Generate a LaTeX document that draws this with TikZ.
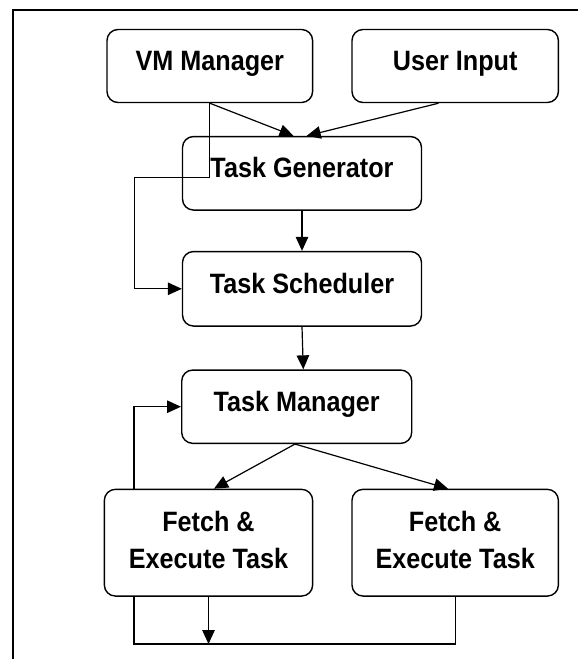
\documentclass[tikz,border=0pt]{standalone}
\usepackage{fontspec}
\setmainfont{Liberation Sans}[FakeStretch=0.9]
\usetikzlibrary{arrows.meta}
\tikzset{
  box/.style={draw=black, line width=1.4pt, rounded corners=11pt, fill=white,
    font=\bfseries\fontsize{28}{36.6}\selectfont, align=center,
    text height=20pt, text depth=11pt, inner sep=0pt},
  twoline/.style={text height=56.6pt, text depth=5.4pt},
  conn/.style={draw=black, line width=1.2pt},
  arr/.style={conn, -{Triangle[length=14pt,width=12.5pt]}},
  frame/.style={draw=black, line width=1.3pt}
}
\begin{document}
\begin{tikzpicture}[x=1pt,y=-1pt]
\useasboundingbox (0,0) rectangle (578,659);
\clip (0,0) rectangle (578,659);
\fill[white] (0,0) rectangle (578,659);
\draw[frame] (13,680) -- (13,10) -- (600,10);

\node[box, minimum width=205.6pt, minimum height=73pt] (vm) at (209.8,66) {VM Manager};
\node[box, minimum width=206.4pt, minimum height=73pt] (ui) at (455.2,66) {User Input};
\node[box, minimum width=239pt, minimum height=73.5pt] (tg) at (302,173.3) {Task Generator};
\node[box, minimum width=239pt, minimum height=74.5pt] (ts) at (302,288.8) {Task Scheduler};
\node[box, minimum width=230pt, minimum height=73.3pt] (tm) at (296.7,406.7) {Task Manager};
\node[box, twoline, minimum width=208.3pt, minimum height=106.7pt] (f1) at (208.5,542.7) {Fetch \&\\Execute Task};
\node[box, twoline, minimum width=206.4pt, minimum height=106.7pt] (f2) at (455.2,542.7) {Fetch \&\\Execute Task};

\coordinate (bendA) at (134.3,177.3);
\coordinate (bus) at (300,644);

\draw[arr] (vm.south) -- ([xshift=-8.5pt]tg.north);
\draw[arr] ([xshift=-16.6pt]ui.south) -- ([xshift=4.7pt]tg.north);
\draw[arr] (vm.south) |- (bendA) |- (ts.west);
\draw[arr] (tg.south) -- (ts.north);
\draw[arr] (ts.south) -- ([xshift=6.6pt]tm.north);
\draw[arr] ([xshift=-74.5pt]f1.north) |- (tm.west);
\draw[arr] ([xshift=-1.7pt]tm.south) -- ([xshift=5.5pt]f1.north);
\draw[arr] ([xshift=-1.7pt]tm.south) -- ([xshift=-7.2pt]f2.north);
\draw[conn] ([xshift=-74.5pt]f1.south) |- (bus) -| (f2.south);
\draw[arr] (f1.south) -- (f1.south |- bus);
\end{tikzpicture}
\end{document}
